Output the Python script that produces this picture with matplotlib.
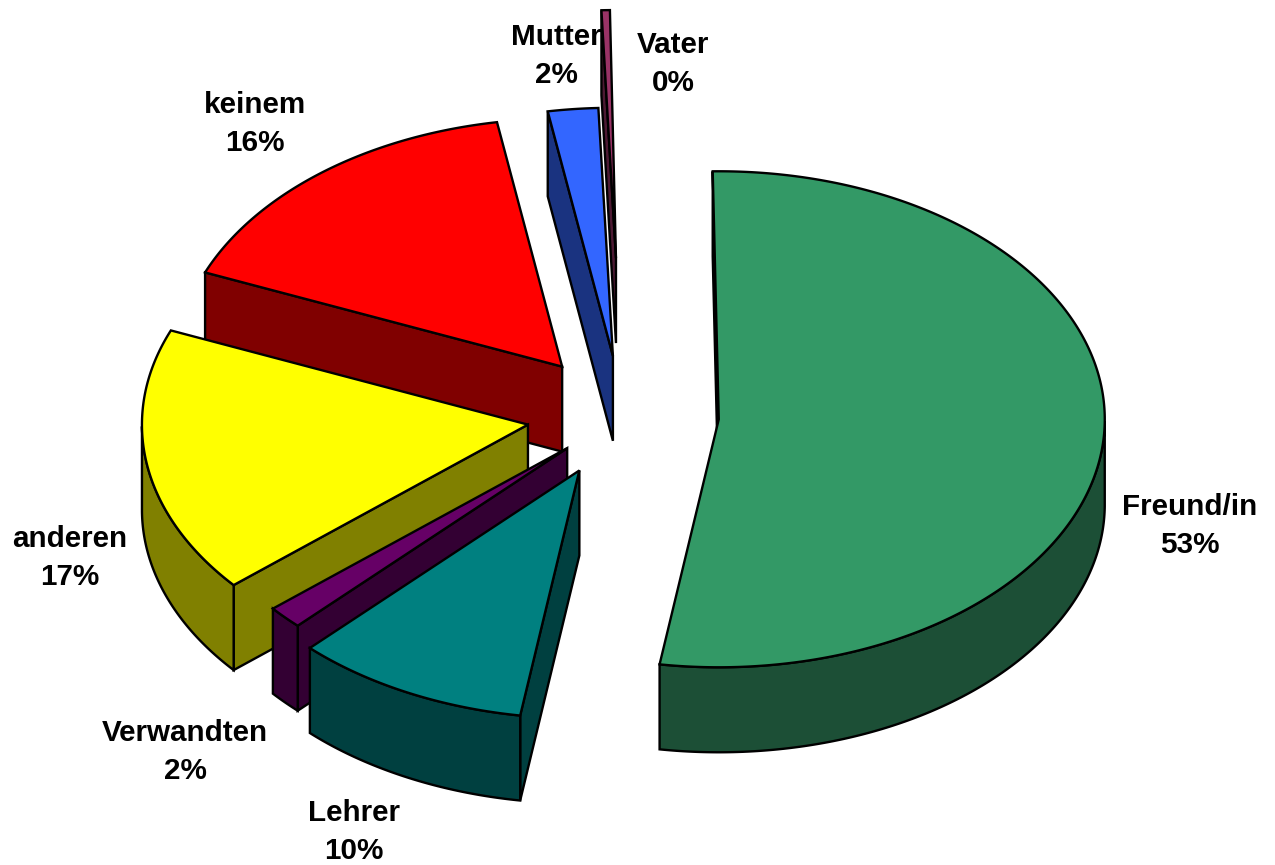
import numpy as np
import matplotlib
matplotlib.use("Agg")
import matplotlib.pyplot as plt
from matplotlib.patches import Polygon

plt.rcParams['font.family'] = ['Liberation Sans', 'DejaVu Sans']

# Werte im Uhrzeigersinn, beginnend oben
labels = ["Freund/in", "Lehrer", "Verwandten", "anderen", "keinem", "Mutter", "Vater"]
values = [52.7, 9.85, 1.5, 17.4, 16.1, 2.1, 0.35]
explode = [0.25, 0.25, 0.196, 0.248, 0.25, 0.24, 0.633]

top_colors = ["#339966", "#008080", "#660066", "#FFFF00", "#FF0000", "#3366FF", "#993366"]
side_colors = ["#1C4F36", "#004040", "#330033", "#808000", "#800000", "#1A3380", "#4D1A33"]

label_x = [1190, 354, 185, 70, 255, 556, 673]
label_y = [526, 832, 752, 558, 124, 56, 64]

# von hinten nach vorne zeichnen
draw_order = [5, 6, 4, 3, 2, 1, 0]

center_x, center_y = 622.5, 415
rx, ry = 386, 248
depth = 85
start_angle = -0.9


def ellipse_point(angle, e=1.0):
    # Winkel in Grad, im Uhrzeigersinn ab oben
    a = np.radians(angle)
    return np.sin(a) * rx * e, -np.cos(a) * ry * e


def draw_wall(ax, p1, p2, color):
    pts = [p1, p2, (p2[0], p2[1] + depth), (p1[0], p1[1] + depth)]
    ax.add_patch(Polygon(pts, closed=True, facecolor=color, edgecolor="black",
                         linewidth=1.7, joinstyle="miter"))


def draw_slice(ax, a0, a1, e, top, side):
    dx, dy = ellipse_point((a0 + a1) / 2, e)
    apex = (center_x + dx, center_y + dy)
    angles = np.linspace(a0, a1, max(int(a1 - a0) * 2, 2) + 1)
    xs, ys = ellipse_point(angles)
    xs, ys = xs + apex[0], ys + apex[1]

    # sichtbare Seitenwand nur wenn die Kante nach links läuft
    if xs[0] < apex[0]:
        draw_wall(ax, apex, (xs[0], ys[0]), side)

    low = np.cos(np.radians(angles)) <= 0
    if low.sum() > 1:
        arc_top = np.column_stack([xs[low], ys[low]])
        arc_bottom = arc_top[::-1] + [0, depth]
        ax.add_patch(Polygon(np.vstack([arc_top, arc_bottom]), closed=True,
                             facecolor=side, edgecolor="black", linewidth=1.7,
                             joinstyle="miter"))

    pts = np.vstack([[apex], np.column_stack([xs, ys])])
    ax.add_patch(Polygon(pts, closed=True, facecolor=top, edgecolor="black",
                         linewidth=1.7, joinstyle="miter"))


fig = plt.figure(figsize=(12.75, 8.65), dpi=100)
ax = fig.add_axes([0, 0, 1, 1])
ax.set_xlim(0, 1275)
ax.set_ylim(865, 0)
ax.axis("off")

edges = start_angle + np.cumsum([0] + values) * 3.6

for i, name in enumerate(labels):
    ax.text(label_x[i], label_y[i], f"{name}\n{round(values[i]):d}%", ha="center", va="center",
            fontsize=21.3, fontweight="bold", linespacing=1.42, color="black", zorder=0.5)

for i in draw_order:
    draw_slice(ax, edges[i], edges[i + 1], explode[i], top_colors[i], side_colors[i])

fig.savefig("out.png", dpi=100, facecolor="white")
